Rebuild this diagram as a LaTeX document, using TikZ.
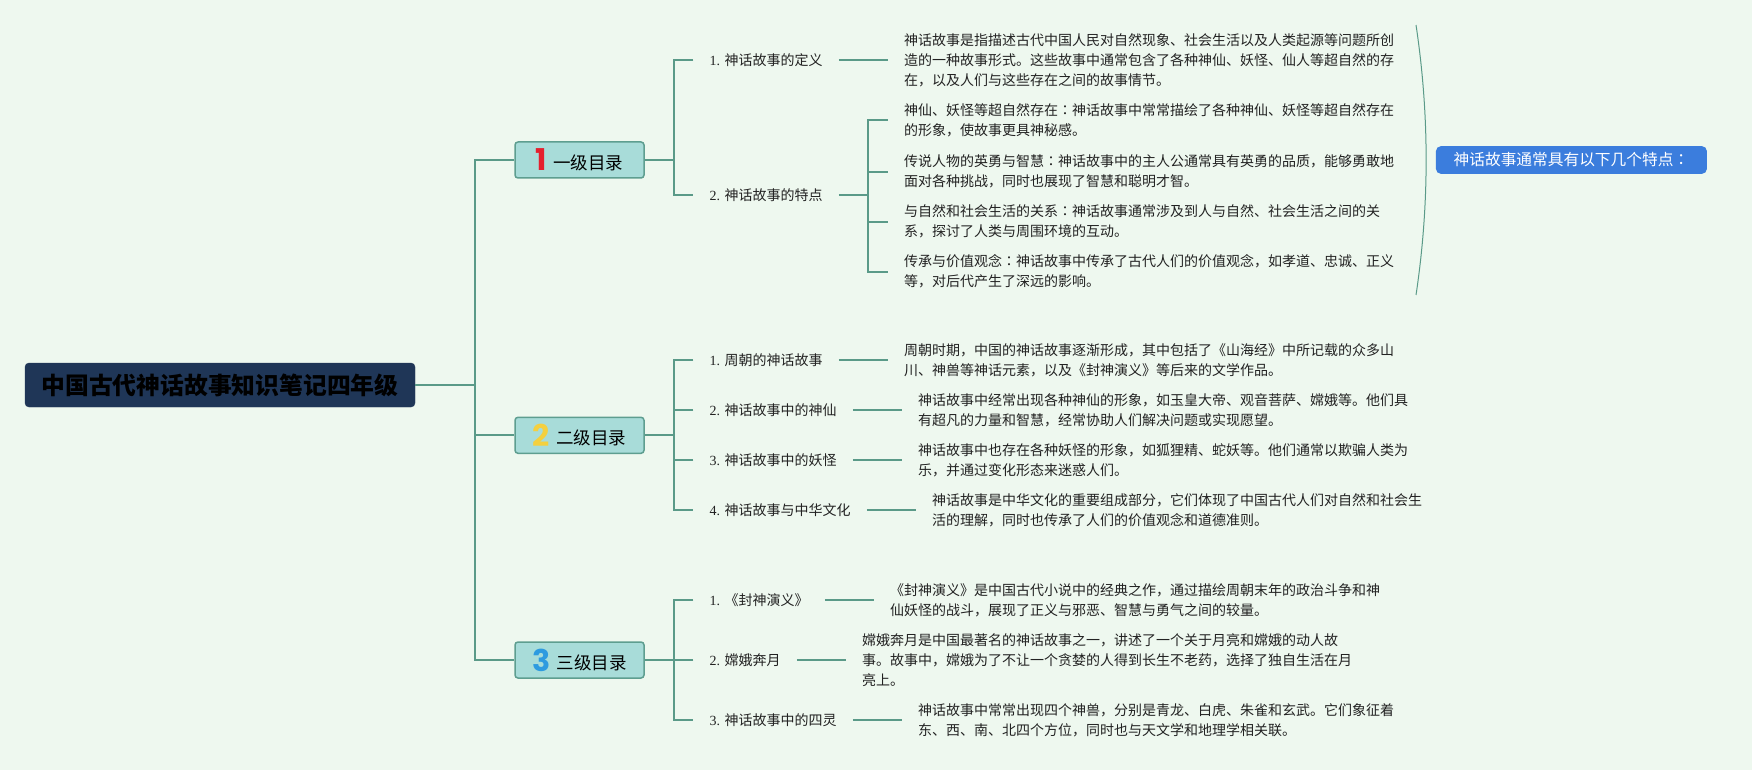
\documentclass[tikz,border=0pt]{standalone}
\usepackage{fontspec}
\setmainfont{Liberation Serif}
\newfontfamily\cjk{Noto Sans CJK SC}
\newfontfamily\jpf{Noto Sans CJK JP}
\newfontfamily\lat{Liberation Serif}
\newfontfamily\numf{Poppins}
\newcommand{\cc}{{\jpf ：}}
\definecolor{bgc}{HTML}{EEF8EF}
\definecolor{connc}{HTML}{5A9A88}
\definecolor{boxf}{HTML}{A8DCD9}
\definecolor{boxb}{HTML}{5E9E90}
\definecolor{rootc}{HTML}{1F3657}
\definecolor{sumc}{HTML}{3B7DDD}
\definecolor{txt}{HTML}{222222}
\definecolor{numA}{HTML}{E5202E}
\definecolor{numB}{HTML}{F4D03F}
\definecolor{numC}{HTML}{2E9BE0}
\tikzset{
  conn/.style={draw=connc, line width=2pt},
  sumline/.style={draw=connc, line width=1pt},
  rootbox/.style={draw=rootc, fill=rootc, rounded corners=4pt, minimum width=390pt, minimum height=44pt, inner sep=0pt, font=\cjk\fontsize{23.8}{26}\selectfont\bfseries, text=black},
  lvlbox/.style={draw=boxb, line width=1.5pt, fill=boxf, rounded corners=3pt, minimum width=129pt, minimum height=36pt, inner sep=0pt, font=\cjk\fontsize{17.5}{20}\selectfont, text=black},
  sumbox/.style={fill=sumc, rounded corners=5pt, minimum width=271pt, minimum height=27.7pt, inner sep=0pt, font=\cjk\fontsize{15.7}{18}\selectfont, text=white},
  lab/.style={anchor=west, inner xsep=16pt, inner ysep=2pt, font=\cjk\fontsize{14}{20}\selectfont, text=txt},
  desc/.style={anchor=west, inner xsep=16pt, inner ysep=0pt, align=left, font=\cjk\fontsize{14}{20}\selectfont, text=txt},
}
\newcommand{\bignum}[3]{{\numf\bfseries\fontsize{30}{30}\selectfont\color{#1}#2}\hspace{6pt}\raisebox{1.5pt}{#3}}
\begin{document}
\begin{tikzpicture}[x=1pt,y=-1pt]
\fill[bgc] (0,0) rectangle (1752,770);
\useasboundingbox (0,0) rectangle (1752,770);

% root and level-1 boxes
\node[rootbox] (root) at (220,385) {中国古代神话故事知识笔记四年级};
\node[lvlbox] (b1) at (579.5,160) {\bignum{numA}{1}{一级目录}};
\node[lvlbox] (b2) at (579.5,435.3) {\bignum{numB}{2}{二级目录}};
\node[lvlbox] (b3) at (579.5,660) {\bignum{numC}{3}{三级目录}};

\coordinate (tr) at (474.6,385);
\draw[conn] (root.east) -- (tr);
\draw[conn] (b1.west) -| (tr) |- (b3.west);
\draw[conn] (tr |- b2.west) -- (b2.west);

% branch 1
\node[lab] (l11) at (693.3,60) {{\lat 1. }神话故事的定义};
\node[lab] (l12) at (693.3,195) {{\lat 2. }神话故事的特点};
\coordinate (k1) at (673.7,160);
\draw[conn] (b1.east) -- (k1);
\draw[conn] (l11.west) -| (k1) |- (l12.west);

\node[desc] (d11) at ([xshift=49pt]l11.east) {神话故事是指描述古代中国人民对自然现象、社会生活以及人类起源等问题所创\\造的一种故事形式。这些故事中通常包含了各种神仙、妖怪、仙人等超自然的存\\在，以及人们与这些存在之间的故事情节。};
\draw[conn] (l11.east) -- (d11.west);

\node[desc] (f1) at ([xshift=49pt,yshift=75pt]l12.east) {神仙、妖怪等超自然存在\cc 神话故事中常常描绘了各种神仙、妖怪等超自然存在\\的形象，使故事更具神秘感。};
\node[desc] (f2) at ([xshift=49pt,yshift=23.3pt]l12.east) {传说人物的英勇与智慧\cc 神话故事中的主人公通常具有英勇的品质，能够勇敢地\\面对各种挑战，同时也展现了智慧和聪明才智。};
\node[desc] (f3) at ([xshift=49pt,yshift=-26.7pt]l12.east) {与自然和社会生活的关系\cc 神话故事通常涉及到人与自然、社会生活之间的关\\系，探讨了人类与周围环境的互动。};
\node[desc] (f4) at ([xshift=49pt,yshift=-76.7pt]l12.east) {传承与价值观念\cc 神话故事中传承了古代人们的价值观念，如孝道、忠诚、正义\\等，对后代产生了深远的影响。};
\coordinate (k12) at ([xshift=29pt]l12.east);
\draw[conn] (l12.east) -- (k12);
\draw[conn] (f1.west) -| (k12) |- (f4.west);
\draw[conn] (f2.west) -- (f2.west -| k12);
\draw[conn] (f3.west) -- (f3.west -| k12);

% summary
\coordinate (s1) at (1416,25);
\coordinate (s2) at (1416,295);
\draw[sumline] (s1) .. controls (1429.5,115) and (1429.5,205) .. (s2);
\node[sumbox] (sum) at (1571.4,160) {神话故事通常具有以下几个特点\cc};

% branch 2
\node[lab] (l21) at (693.3,360) {{\lat 1. }周朝的神话故事};
\node[lab] (l22) at (693.3,410) {{\lat 2. }神话故事中的神仙};
\node[lab] (l23) at (693.3,460) {{\lat 3. }神话故事中的妖怪};
\node[lab] (l24) at (693.3,510) {{\lat 4. }神话故事与中华文化};
\coordinate (k2) at (673.7,435.3);
\draw[conn] (b2.east) -- (k2);
\draw[conn] (l21.west) -| (k2) |- (l24.west);
\draw[conn] (l22.west) -- (l22.west -| k2);
\draw[conn] (l23.west) -- (l23.west -| k2);

\node[desc] (d21) at ([xshift=49pt]l21.east) {周朝时期，中国的神话故事逐渐形成，其中包括了《山海经》中所记载的众多山\\川、神兽等神话元素，以及《封神演义》等后来的文学作品。};
\node[desc] (d22) at ([xshift=49pt]l22.east) {神话故事中经常出现各种神仙的形象，如玉皇大帝、观音菩萨、嫦娥等。他们具\\有超凡的力量和智慧，经常协助人们解决问题或实现愿望。};
\node[desc] (d23) at ([xshift=49pt]l23.east) {神话故事中也存在各种妖怪的形象，如狐狸精、蛇妖等。他们通常以欺骗人类为\\乐，并通过变化形态来迷惑人们。};
\node[desc] (d24) at ([xshift=49pt]l24.east) {神话故事是中华文化的重要组成部分，它们体现了中国古代人们对自然和社会生\\活的理解，同时也传承了人们的价值观念和道德准则。};
\draw[conn] (l21.east) -- (d21.west);
\draw[conn] (l22.east) -- (d22.west);
\draw[conn] (l23.east) -- (d23.west);
\draw[conn] (l24.east) -- (d24.west);

% branch 3
\node[lab] (l31) at (693.3,600) {{\lat 1. }《封神演义》};
\node[lab] (l32) at (693.3,660) {{\lat 2. }嫦娥奔月};
\node[lab] (l33) at (693.3,720) {{\lat 3. }神话故事中的四灵};
\coordinate (k3) at (673.7,660);
\draw[conn] (b3.east) -- (k3);
\draw[conn] (l31.west) -| (k3) |- (l33.west);
\draw[conn] (l32.west) -- (l32.west -| k3);

\node[desc] (d31) at ([xshift=49pt]l31.east) {《封神演义》是中国古代小说中的经典之作，通过描绘周朝末年的政治斗争和神\\仙妖怪的战斗，展现了正义与邪恶、智慧与勇气之间的较量。};
\node[desc] (d32) at ([xshift=49pt]l32.east) {嫦娥奔月是中国最著名的神话故事之一，讲述了一个关于月亮和嫦娥的动人故\\事。故事中，嫦娥为了不让一个贪婪的人得到长生不老药，选择了独自生活在月\\亮上。};
\node[desc] (d33) at ([xshift=49pt]l33.east) {神话故事中常常出现四个神兽，分别是青龙、白虎、朱雀和玄武。它们象征着\\东、西、南、北四个方位，同时也与天文学和地理学相关联。};
\draw[conn] (l31.east) -- (d31.west);
\draw[conn] (l32.east) -- (d32.west);
\draw[conn] (l33.east) -- (d33.west);
\end{tikzpicture}
\end{document}
